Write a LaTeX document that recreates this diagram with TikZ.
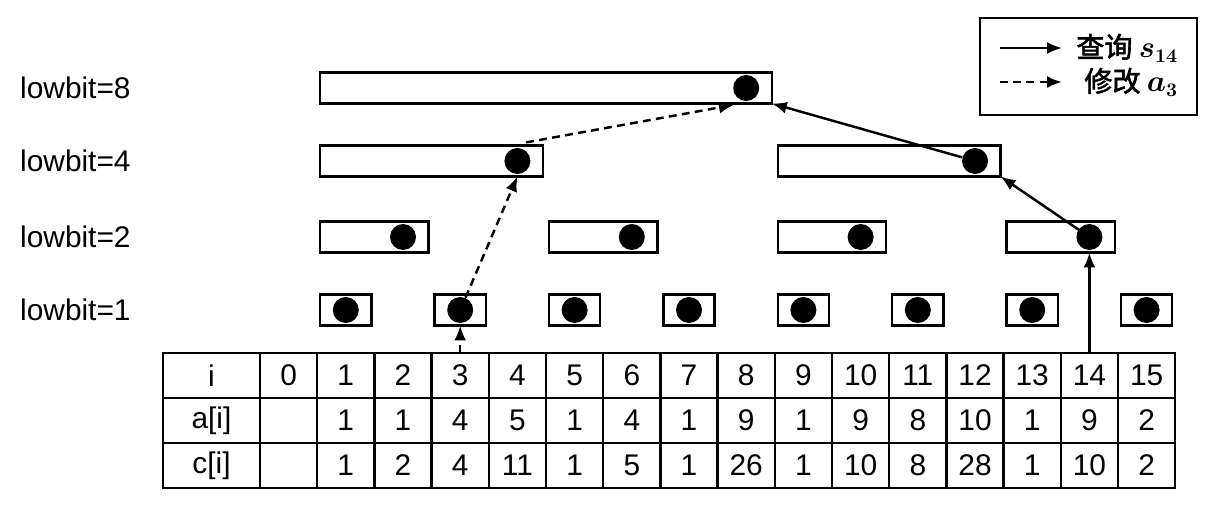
\documentclass[tikz,border=0pt]{standalone}
\usepackage{bm}
\usepackage{fontspec}
\setmainfont{Liberation Sans}
\newfontfamily\cjk[FakeBold=2]{Noto Sans CJK SC}
\usepackage{tikz}
\usetikzlibrary{arrows.meta,positioning}

\begin{document}
\begin{tikzpicture}[
    x=0.02cm, y=-0.02cm,
    font=\fontsize{17}{20}\selectfont,
    seg/.style={draw, line width=1.4pt, minimum height=0.62cm, inner sep=0pt, outer sep=0pt},
    dot/.style={circle, fill=black, minimum size=0.52cm, inner sep=0pt},
    cell/.style={draw, line width=1.3pt, minimum width=1.144cm, minimum height=0.9cm, inner sep=0pt, outer sep=0pt},
    head/.style={cell, minimum width=1.94cm},
    arr/.style={-{Latex[length=3mm,width=2.4mm]}, line width=1.4pt},
    modarr/.style={arr, dash pattern=on 4.5pt off 3pt}
]
\useasboundingbox (0,0) rectangle (1210,507);

% table
\node[head] (hi) at (211.5,375.5) {i};
\node[head] (ha) at (211.5,420.5) {a[i]};
\node[head] (hc) at (211.5,465.5) {c[i]};
\node[cell] (i0) at (288.6,375.5) {0};
\node[cell] (a0) at (288.6,420.5) {};
\node[cell] (c0) at (288.6,465.5) {};
\foreach \av/\cv [count=\n] in {1/1,1/2,4/4,5/11,1/1,4/5,1/1,9/26,1/1,9/10,8/8,10/28,1/1,9/10,2/2} {
    \node[cell] (i\n) at ({288.6+57.2*\n},375.5) {\n};
    \node[cell] (a\n) at ({288.6+57.2*\n},420.5) {\av};
    \node[cell] (c\n) at ({288.6+57.2*\n},465.5) {\cv};
}

% lowbit levels
\foreach \lb/\y in {1/310,2/237,4/161,8/88} {
    \node[anchor=west] (l\lb) at (14,\y) {lowbit=\lb};
    \pgfmathtruncatemacro\jmax{8/\lb-1}
    \pgfmathsetmacro\w{(57.2*\lb-6)*0.02}
    \foreach \j in {0,...,\jmax} {
        \pgfmathtruncatemacro\idx{\lb*(2*\j+1)}
        \node[seg, minimum width=\w cm] (b\idx) at ({260+57.2*(\idx+1-\lb/2)},\y) {};
        \node[dot] (d\idx) at ({288.6+57.2*\idx},\y) {};
    }
}

% query s_14
\draw[arr] (i14.north) -- (i14.north |- b14.south);
\draw[arr, shorten <=-2pt] (d14) -- (b12.south east);
\draw[arr] (d12) -- (b8.south east);

% modify a_3
\draw[modarr] (i3.north) -- (i3.north |- b3.south);
\draw[modarr] (d3) -- (d4 |- b4.south);
\draw[modarr] ([xshift=5pt,yshift=3pt]d4.north) -- ([xshift=-7pt,yshift=-2pt]d8.south);

% legend
\node[draw, line width=1.4pt, minimum width=4.34cm, minimum height=1.94cm, inner sep=0pt] (legend) at (1088.5,66.5) {};
\coordinate (q1) at (1000,48);
\coordinate (q2) at (1062,48);
\coordinate (m1) at (1000,82);
\coordinate (m2) at (1062,82);
\draw[arr] (q1) -- (q2);
\draw[modarr] (m1) -- (m2);
\node[anchor=west, inner sep=0pt] (qtxt) at (1076,48) {\fontsize{16}{18}\selectfont\cjk 查询 $\bm{s_{14}}$};
\node[anchor=west, inner sep=0pt] (mtxt) at (1084,82) {\fontsize{16}{18}\selectfont\cjk 修改 $\bm{a_3}$};
\end{tikzpicture}
\end{document}
